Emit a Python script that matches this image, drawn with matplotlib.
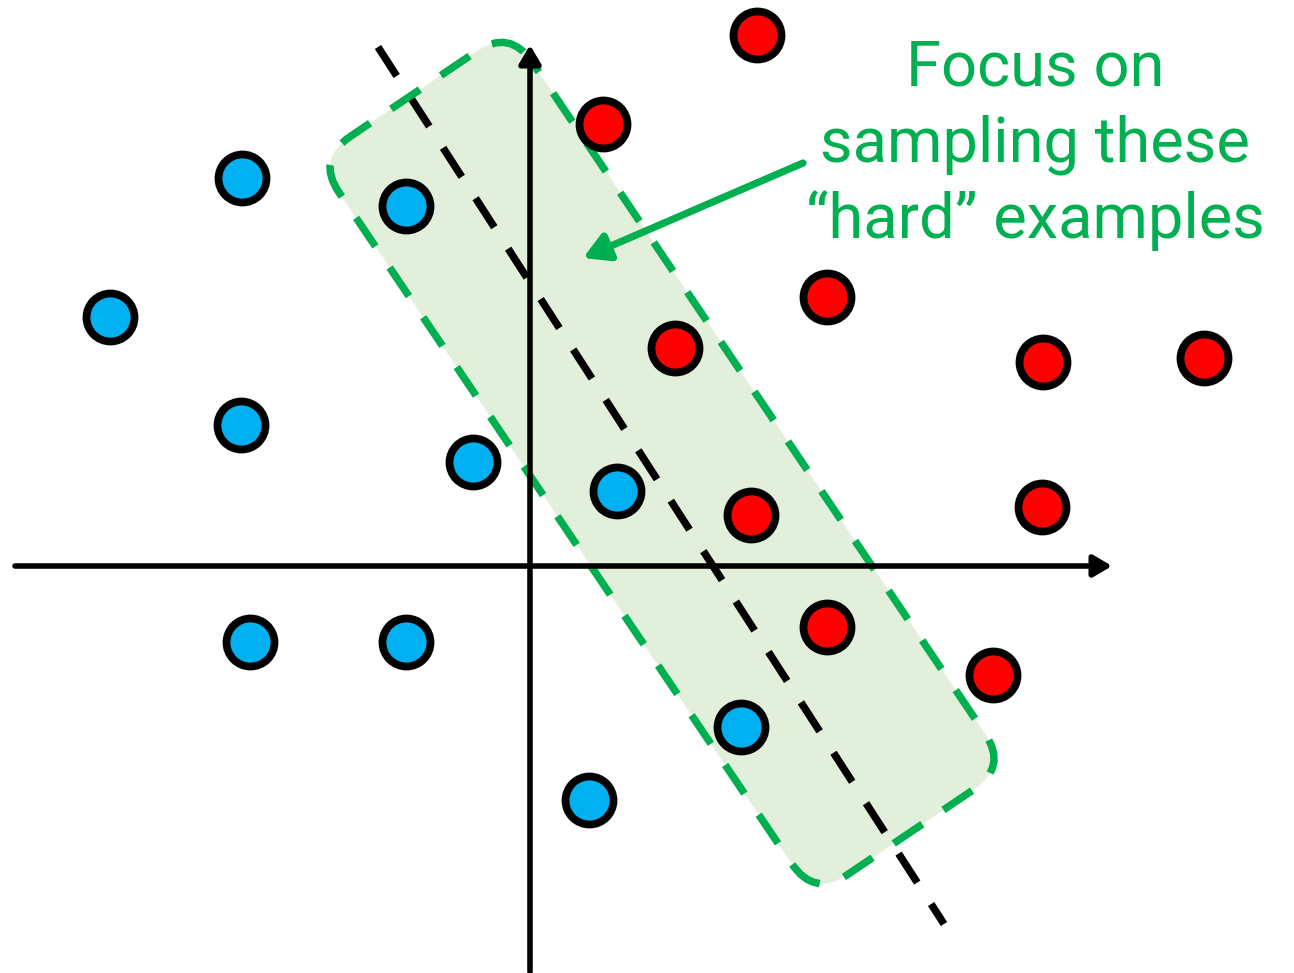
import matplotlib
matplotlib.use("Agg")
import matplotlib.pyplot as plt
from matplotlib.patches import FancyBboxPatch
from matplotlib.transforms import Affine2D
import numpy as np

# ---- data (pixel-like coordinates, y grows downward) ----
blue_x = [242, 406, 110, 241, 473, 617, 250, 406, 741, 589]
blue_y = [178, 206, 317, 425, 462, 491, 642, 642, 727, 800]
red_x = [757, 603, 827, 675, 1043, 1204, 751, 1042, 827, 993]
red_y = [35, 124, 297, 348, 362, 358, 515, 507, 627, 675]

boundary_x = [378, 944]
boundary_y = [47, 924]

axis_origin = (530, 566)
xaxis_span = (15, 1112)
yaxis_span = (972, 45)

# highlighted region (rotated rounded rectangle): center, length, width, angle
region_center = (662, 463)
region_length = 890
region_width = 233
region_angle = 56

label_lines = ["Focus on", "sampling these", "\u201chard\u201d examples"]
label_x = 1035
label_baselines = [85, 161.5, 238]
arrow_start = (803, 163)
arrow_end = (583, 258)

GREEN = "#00b050"
FILL = "#e2efda"
BLUE = "#00b0f0"
RED = "#ff0000"

fig = plt.figure(figsize=(12.94, 9.73), dpi=100)
ax = fig.add_axes([0, 0, 1, 1])
ax.set_xlim(0, 1294)
ax.set_ylim(973, 0)
ax.axis("off")

tr = Affine2D().rotate_deg(region_angle).translate(*region_center) + ax.transData
box_kw = dict(boxstyle="round,pad=0,rounding_size=40")
fill = FancyBboxPatch((-region_length / 2, -region_width / 2), region_length, region_width,
                      facecolor=FILL, edgecolor="none", transform=tr, zorder=1, **box_kw)
ax.add_patch(fill)

ax.plot(boundary_x, boundary_y, color="black", lw=5.4,
        linestyle=(0, (4.6, 3.4)), solid_capstyle="butt", zorder=2)

edge = FancyBboxPatch((-region_length / 2, -region_width / 2), region_length, region_width,
                      facecolor="none", edgecolor=GREEN, lw=5.4, linestyle=(3, (4.6, 3.4)),
                      transform=tr, zorder=3, **box_kw)
ax.add_patch(edge)

ax.annotate("", xy=(xaxis_span[1], axis_origin[1]), xytext=(xaxis_span[0], axis_origin[1]),
            arrowprops=dict(arrowstyle="-|>,head_length=1.1,head_width=0.65", lw=4,
                            color="black", shrinkA=0, shrinkB=0), zorder=4)
ax.annotate("", xy=(axis_origin[0], yaxis_span[1]), xytext=(axis_origin[0], yaxis_span[0]),
            arrowprops=dict(arrowstyle="-|>,head_length=1.1,head_width=0.65", lw=4,
                            color="black", shrinkA=0, shrinkB=0), zorder=4)

ax.annotate("", xy=arrow_end, xytext=arrow_start,
            arrowprops=dict(arrowstyle="-|>,head_length=1.5,head_width=0.85", lw=5.2,
                            color=GREEN, shrinkA=0, shrinkB=0), zorder=5)

for line, yb in zip(label_lines, label_baselines):
    ax.text(label_x, yb, line, color=GREEN, fontsize=45.5, family="Roboto",
            ha="center", va="baseline", zorder=6)

ax.scatter(blue_x, blue_y, s=1195, c=BLUE, edgecolors="black", linewidths=5.6, zorder=7)
ax.scatter(red_x, red_y, s=1195, c=RED, edgecolors="black", linewidths=5.6, zorder=7)

fig.savefig("out.png", dpi=100)
